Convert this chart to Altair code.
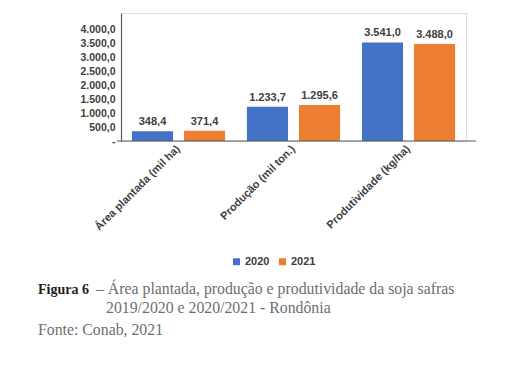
import altair as alt
import pandas as pd

categories = ["Área plantada (mil ha)", "Produção (mil ton.)", "Produtividade (kg/ha)"]
years = ["2020", "2021"]
v2020 = [348.4, 1233.7, 3541.0]
v2021 = [371.4, 1295.6, 3488.0]
y_ticks = [0, 500, 1000, 1500, 2000, 2500, 3000, 3500, 4000]
colors = ["#4472C4", "#ED7D31"]


def br(v):
    s = f"{v:,.1f}"
    return s.replace(",", "X").replace(".", ",").replace("X", ".")


rows = []
for c, a, b in zip(categories, v2020, v2021):
    rows.append({"cat": c, "ano": years[0], "valor": a, "rot": br(a)})
    rows.append({"cat": c, "ano": years[1], "valor": b, "rot": br(b)})
df = pd.DataFrame(rows)

W, H = 345, 128
sans = "Liberation Sans"
serif = "Liberation Serif"
txt = "#404040"
axis_col = "#595959"

x = alt.X("cat:N", sort=categories, title=None,
          scale=alt.Scale(paddingInner=0, paddingOuter=0),
          axis=alt.Axis(labelAngle=-45, labelAlign="right", labelBaseline="middle",
                        labelFont=sans, labelFontWeight="bold", labelFontSize=11,
                        labelColor=txt, labelPadding=6, ticks=False,
                        domain=False, labelLimit=300))
xo = alt.XOffset("ano:N", sort=years,
                 scale=alt.Scale(paddingInner=0.21, paddingOuter=0.21))
y = alt.Y("valor:Q", title=None,
          scale=alt.Scale(domain=[0, 4600], nice=False),
          axis=alt.Axis(values=y_ticks, grid=False, ticks=False,
                        labelExpr="datum.value == 0 ? '-' : replace(replace(replace(format(datum.value, ',.1f'), ',', '#'), '.', ','), '#', '.')",
                        labelFont=sans, labelFontWeight="bold", labelFontSize=10.5,
                        labelColor=txt, labelPadding=6,
                        domainColor=axis_col, domainWidth=1.2))

base = alt.Chart(df)

bars = base.mark_bar().encode(
    x=x, xOffset=xo, y=y,
    color=alt.Color("ano:N", sort=years, title=None,
                    scale=alt.Scale(domain=years, range=colors),
                    legend=alt.Legend(orient="none", legendX=110, legendY=243,
                                      direction="horizontal", symbolType="square",
                                      symbolSize=49, symbolStrokeWidth=0,
                                      labelFont=sans, labelFontWeight="bold",
                                      labelFontSize=11, labelColor=txt,
                                      labelOffset=3, columnPadding=7)),
)

labels = base.mark_text(baseline="bottom", dy=-4, font=sans, fontWeight="bold",
                        fontSize=11, color=txt).encode(
    x=x, xOffset=xo, y=y, text="rot:N")

xline = alt.Chart(pd.DataFrame({"a": [0]})).mark_rule(color=axis_col, strokeWidth=1.2).encode(
    x=alt.value(-4), x2=alt.value(355), y=alt.value(H))

cap1 = alt.Chart(pd.DataFrame({"t": ["Figura 6"]})).mark_text(
    align="left", baseline="alphabetic", font=serif,
    fontWeight="bold", fontSize=14, color="#231f20").encode(
    x=alt.value(-83), y=alt.value(281), text="t:N")
cap2 = alt.Chart(pd.DataFrame({"t": ["– Área plantada, produção e produtividade da soja safras"]})).mark_text(
    align="left", baseline="alphabetic", font=serif, fontSize=15.8, color="#6d6e71").encode(
    x=alt.value(-25), y=alt.value(281), text="t:N")
cap3 = alt.Chart(pd.DataFrame({"t": ["2019/2020 e 2020/2021 - Rondônia"]})).mark_text(
    align="left", baseline="alphabetic", font=serif, fontSize=15.8, color="#6d6e71").encode(
    x=alt.value(-15), y=alt.value(300), text="t:N")
cap4 = alt.Chart(pd.DataFrame({"t": ["Fonte: Conab, 2021"]})).mark_text(
    align="left", baseline="alphabetic", font=serif, fontSize=15.8, color="#6d6e71").encode(
    x=alt.value(-83), y=alt.value(322), text="t:N")

chart = alt.layer(bars, labels, xline, cap1, cap2, cap3, cap4).properties(
    width=W, height=H,
    autosize=alt.AutoSizeParams(type="none"),
    padding={"left": 113, "top": 5, "right": 55, "bottom": 238},
).configure_view(stroke=None).configure(background="white")

chart.save("out.html", embed_options={"renderer": "svg", "actions": False})
